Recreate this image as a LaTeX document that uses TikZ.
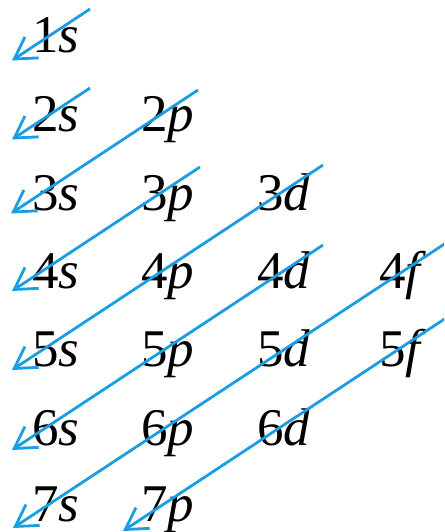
\documentclass[tikz,border=0pt]{standalone}
\usepackage{fontspec}
\setmainfont{Liberation Serif}
\usetikzlibrary{arrows.meta}
\definecolor{arrowblue}{RGB}{27,157,226}
\tikzset{
  orb/.style={anchor=base west, inner sep=0pt, font=\fontsize{53}{60}\selectfont},
  diag/.style={draw=arrowblue, line width=2.8pt},
  diagarrow/.style={diag, -{Straight Barb[length=21pt, width=25pt, line width=2.8pt]}}
}
\newcommand{\orbl}[2]{#1\textit{#2}}
\begin{document}
\begin{tikzpicture}[x=1pt, y=-1pt]
\useasboundingbox (0,0) rectangle (444,532);
% labels
\node[orb] (1s) at (32,53) {\orbl{1}{s}};
\node[orb] (2s) at (32,131) {\orbl{2}{s}};
\node[orb] (2p) at (141,131) {\orbl{2}{p}};
\node[orb] (3s) at (32,210) {\orbl{3}{s}};
\node[orb] (3p) at (141,210) {\orbl{3}{p}};
\node[orb] (3d) at (257,210) {\orbl{3}{d}};
\node[orb] (4s) at (32,288) {\orbl{4}{s}};
\node[orb] (4p) at (141,288) {\orbl{4}{p}};
\node[orb] (4d) at (257,288) {\orbl{4}{d}};
\node[orb] (4f) at (379,288) {\orbl{4}{f}};
\node[orb] (5s) at (32,366) {\orbl{5}{s}};
\node[orb] (5p) at (141,366) {\orbl{5}{p}};
\node[orb] (5d) at (257,366) {\orbl{5}{d}};
\node[orb] (5f) at (379,366) {\orbl{5}{f}};
\node[orb] (6s) at (32,445) {\orbl{6}{s}};
\node[orb] (6p) at (141,445) {\orbl{6}{p}};
\node[orb] (6d) at (257,445) {\orbl{6}{d}};
\node[orb] (7s) at (32,521) {\orbl{7}{s}};
\node[orb] (7p) at (141,521) {\orbl{7}{p}};
% diagonal start / end points
\coordinate (a1) at (90,9);    \coordinate (b1) at (12,60.5);
\coordinate (a2) at (90,88);   \coordinate (b2) at (12,139.5);
\coordinate (a3) at (198,90);  \coordinate (b3) at (11,213.5);
\coordinate (a4) at (200,167); \coordinate (b4) at (12,291);
\coordinate (a5) at (323,165); \coordinate (b5) at (12,370);
\coordinate (a6) at (323,245); \coordinate (b6) at (12,450);
\coordinate (a7) at (446,243); \coordinate (b7) at (13,528);
\coordinate (a8) at (446,318); \coordinate (b8) at (123,531);
\begin{scope}
\clip (0,0) rectangle (444,532);
\foreach \i in {1,...,8}{
  \draw[diagarrow] (a\i) -- (b\i);
}
\end{scope}
\end{tikzpicture}
\end{document}
